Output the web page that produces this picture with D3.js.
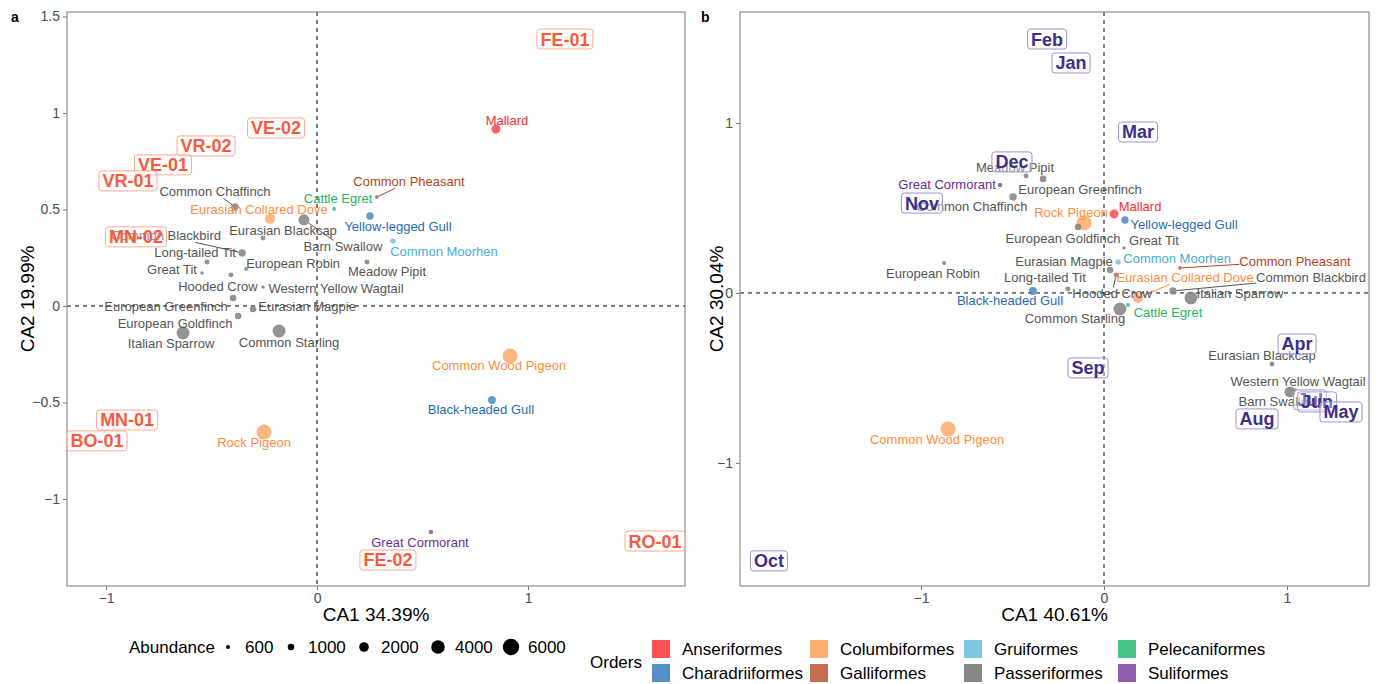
<!DOCTYPE html>
<html>
<head>
<meta charset="utf-8">
<script src="https://cdn.jsdelivr.net/npm/d3@7"></script>
<style>
  body { margin: 0; background: #ffffff; }
  svg { display: block; font-family: "Liberation Sans", Arial, Helvetica, sans-serif; }
</style>
</head>
<body>
<svg id="chart" width="1379" height="684"></svg>
<script>
// ---- Bird orders and colours ----
const orders = ["Anseriformes", "Charadriiformes", "Columbiformes", "Galliformes",
                "Gruiformes", "Passeriformes", "Pelecaniformes", "Suliformes"];
const orderFill = ["#ff474c", "#4a8ac2", "#ffaa6a", "#c0674b",
                   "#7ac3de", "#808080", "#3cc483", "#8a55ad"];
const orderInk  = ["#ff2a2a", "#1f6cb8", "#ff8c3a", "#b4441c",
                   "#46acd8", "#555555", "#1db661", "#6a2c9c"];

// ---- Species, their order and total abundance ----
const species = ["Mallard", "Common Pheasant", "Cattle Egret", "Yellow-legged Gull", "Common Moorhen",
  "Meadow Pipit", "Barn Swallow", "Eurasian Blackcap", "Common Chaffinch", "Eurasian Collared Dove",
  "Common Blackbird", "Long-tailed Tit", "Great Tit", "European Robin", "Hooded Crow",
  "Western Yellow Wagtail", "European Greenfinch", "Eurasian Magpie", "European Goldfinch",
  "Italian Sparrow", "Common Starling", "Rock Pigeon", "Common Wood Pigeon", "Black-headed Gull",
  "Great Cormorant"];
const speciesOrder = ["Anseriformes", "Galliformes", "Pelecaniformes", "Charadriiformes", "Gruiformes",
  "Passeriformes", "Passeriformes", "Passeriformes", "Passeriformes", "Columbiformes",
  "Passeriformes", "Passeriformes", "Passeriformes", "Passeriformes", "Passeriformes",
  "Passeriformes", "Passeriformes", "Passeriformes", "Passeriformes",
  "Passeriformes", "Passeriformes", "Columbiformes", "Columbiformes", "Charadriiformes",
  "Suliformes"];
const abundance = [1750, 590, 590, 1230, 780,
  710, 2600, 710, 1230, 2150,
  1230, 710, 540, 590, 710,
  540, 1030, 1030, 1000,
  3600, 3600, 5000, 4950, 1400,
  660];

// ---- Panel a: CA scores by site ----
const speciesCA1a = [0.848, 0.284, 0.081, 0.251, 0.360,
  0.237, -0.062, -0.256, -0.389, -0.223,
  -0.355, -0.521, -0.545, -0.336, -0.408,
  -0.256, -0.398, -0.303, -0.374,
  -0.635, -0.180, -0.251, 0.915, 0.829,
  0.540];
const speciesCA2a = [0.917, 0.565, 0.503, 0.466, 0.337,
  0.228, 0.446, 0.352, 0.513, 0.451,
  0.275, 0.228, 0.171, 0.192, 0.161,
  0.098, 0.041, -0.016, -0.052,
  -0.140, -0.130, -0.653, -0.259, -0.487,
  -1.171];
const sites = ["FE-01", "VE-02", "VR-02", "VE-01", "VR-01", "MN-02", "MN-01", "BO-01", "FE-02", "RO-01"];
const siteCA1 = [1.175, -0.194, -0.526, -0.730, -0.896, -0.858, -0.900, -1.043, 0.336, 1.602];
const siteCA2 = [1.383, 0.922, 0.829, 0.731, 0.648, 0.358, -0.591, -0.699, -1.316, -1.218];

// ---- Panel b: CA scores by month ----
const speciesCA1b = [0.055, 0.415, 0.131, 0.115, 0.077,
  -0.426, 1.016, 0.918, -0.497, 0.186,
  0.377, -0.197, 0.109, -0.874, 0.066,
  1.044, -0.333, 0.033, -0.142,
  0.475, 0.087, -0.109, -0.852, -0.388,
  -0.568];
const speciesCA2b = [0.465, 0.147, -0.071, 0.429, 0.182,
  0.688, -0.582, -0.418, 0.565, -0.029,
  0.012, 0.024, 0.265, 0.176, 0.106,
  -0.571, 0.671, 0.135, 0.388,
  -0.029, -0.094, 0.412, -0.800, 0.012,
  0.635];
const months = ["Feb", "Jan", "Mar", "Dec", "Nov", "Apr", "Sep", "Jul", "Jun", "May", "Aug", "Oct"];
const monthCA1 = [-0.311, -0.180, 0.186, -0.503, -0.995, 1.055, -0.087, 1.126, 1.164, 1.295, 0.836, -1.831];
const monthCA2 = [1.494, 1.353, 0.947, 0.771, 0.529, -0.300, -0.441, -0.629, -0.641, -0.700, -0.741, -1.576];

// ---- Axis ticks and legend breaks ----
const ticksAx = [-1, 0, 1];
const ticksAy = [-1, -0.5, 0, 0.5, 1, 1.5];
const ticksBx = [-1, 0, 1];
const ticksBy = [-1, 0, 1];
const abundanceBreaks = [600, 1000, 2000, 4000, 6000];

// ---- Label placement (pixel offsets of each species label from its point) ----
const labelShiftA = {
  "Mallard": [11, -9], "Common Pheasant": [32, -15], "Cattle Egret": [4, -10],
  "Yellow-legged Gull": [28, 10], "Common Moorhen": [51, 11], "Meadow Pipit": [20, 10],
  "Barn Swallow": [39, 27], "Eurasian Blackcap": [20, -8], "Common Chaffinch": [-20, -15],
  "Eurasian Collared Dove": [-11, -9], "Common Blackbird": [-76, -17], "Long-tailed Tit": [-12, -9],
  "Great Tit": [-30, -3], "European Robin": [47, -5], "Hooded Crow": [-13, 12],
  "Western Yellow Wagtail": [73, 1], "European Greenfinch": [-67, 8], "Eurasian Magpie": [54, -3],
  "European Goldfinch": [-63, 7], "Italian Sparrow": [-12, 10], "Common Starling": [10, 11],
  "Rock Pigeon": [-10, 10], "Common Wood Pigeon": [-11, 10], "Black-headed Gull": [-11, 10],
  "Great Cormorant": [-11, 10]
};
const labelShiftB = {
  "Mallard": [26, -7], "Common Pheasant": [115, -7], "Cattle Egret": [40, 7],
  "Yellow-legged Gull": [59, 4], "Common Moorhen": [59, -4], "Meadow Pipit": [-11, -9],
  "Barn Swallow": [-12, 10], "Eurasian Blackcap": [-10, -9], "Common Chaffinch": [-41, 10],
  "Eurasian Collared Dove": [47, -20], "Common Blackbird": [138, -13], "Long-tailed Tit": [-23, -11],
  "Great Tit": [30, -7], "European Robin": [-11, 10], "Hooded Crow": [-4, 19],
  "Western Yellow Wagtail": [3, -9], "European Greenfinch": [37, 11], "Eurasian Magpie": [-46, -9],
  "European Goldfinch": [-15, 11], "Italian Sparrow": [49, -4], "Common Starling": [-45, 10],
  "Rock Pigeon": [-13, -10], "Common Wood Pigeon": [-11, 11], "Black-headed Gull": [-23, 10],
  "Great Cormorant": [-53, -1]
};

// ---- Shared scales ----
const fillOf = d3.scaleOrdinal().domain(orders).range(orderFill);
const inkOf = d3.scaleOrdinal().domain(orders).range(orderInk);
// point radius grows with the square root of abundance above a small floor
const radiusLin = d3.scaleLinear().domain([0, 75]).range([1.1, 8.3]);
const radius = v => radiusLin(Math.sqrt(Math.max(0, v - 500)));

const svg = d3.select("#chart");
const fmt = v => (v < 0 ? "\u2212" : "") + Math.abs(v);

function drawPanel(cfg) {
  const x = d3.scaleLinear().domain(cfg.xDomain).range([cfg.left, cfg.right]);
  const y = d3.scaleLinear().domain(cfg.yDomain).range([cfg.bottom, cfg.top]);
  const g = svg.append("g");

  // axes
  const xAxis = d3.axisBottom(x).tickValues(cfg.xTicks).tickFormat(fmt).tickSize(4).tickPadding(3);
  const yAxis = d3.axisLeft(y).tickValues(cfg.yTicks).tickFormat(fmt).tickSize(4).tickPadding(3);
  const gx = g.append("g").attr("transform", `translate(0,${cfg.bottom})`).call(xAxis);
  const gy = g.append("g").attr("transform", `translate(${cfg.left},0)`).call(yAxis);
  [gx, gy].forEach(a => {
    a.select(".domain").remove();
    a.selectAll(".tick line").attr("stroke", "#777");
    a.selectAll(".tick text").attr("fill", "#4d4d4d").style("font-size", "14px")
      .style("font-family", "'Liberation Sans', Arial, sans-serif");
  });

  // reference lines at the origin
  g.append("line").attr("x1", x(0)).attr("x2", x(0)).attr("y1", cfg.top).attr("y2", cfg.bottom)
    .attr("stroke", "#000").attr("stroke-width", 1).attr("stroke-dasharray", "4,4");
  g.append("line").attr("x1", cfg.left).attr("x2", cfg.right).attr("y1", y(0)).attr("y2", y(0))
    .attr("stroke", "#000").attr("stroke-width", 1).attr("stroke-dasharray", "4,4");

  // panel border
  g.append("rect").attr("x", cfg.left).attr("y", cfg.top)
    .attr("width", cfg.right - cfg.left).attr("height", cfg.bottom - cfg.top)
    .attr("fill", "none").attr("stroke", "#8c8c8c").attr("stroke-width", 1.2);

  // axis titles
  g.append("text").attr("x", (cfg.left + cfg.right) / 2).attr("y", 621)
    .attr("text-anchor", "middle").style("font-size", "19px").attr("fill", "#000").text(cfg.xTitle);
  g.append("text").attr("transform", `translate(${cfg.yTitleX},${(cfg.top + cfg.bottom) / 2}) rotate(-90)`)
    .attr("text-anchor", "middle").style("font-size", "19px").attr("fill", "#000").text(cfg.yTitle);

  // panel tag
  g.append("text").attr("x", cfg.tagX).attr("y", 22).style("font-size", "14px")
    .style("font-weight", "bold").text(cfg.tag);

  // species rows
  const rows = species.map((s, i) => ({
    name: s, order: speciesOrder[i], n: abundance[i],
    px: x(cfg.ca1[i]), py: y(cfg.ca2[i]), shift: cfg.shift[s]
  }));

  const plot = g.append("g");
  plot.selectAll("circle.pt").data(rows.slice().sort((a, b) => b.n - a.n)).join("circle")
    .attr("class", "pt")
    .attr("cx", d => d.px).attr("cy", d => d.py).attr("r", d => radius(d.n))
    .attr("fill", d => fillOf(d.order)).attr("fill-opacity", 0.85);

  const segLayer = plot.append("g");
  const labels = plot.selectAll("text.sp").data(rows).join("text")
    .attr("class", "sp")
    .attr("x", d => d.px + d.shift[0]).attr("y", d => d.py + d.shift[1])
    .attr("dy", "0.35em").attr("text-anchor", "middle")
    .style("font-size", "13px").attr("fill", d => inkOf(d.order)).text(d => d.name);

  // leader segments for labels that sit away from their point
  labels.each(function (d) {
    const w = this.getComputedTextLength();
    const cx = d.px + d.shift[0], cy = d.py + d.shift[1];
    const l = cx - w / 2, r = cx + w / 2, t = cy - 6.5, b = cy + 6.5;
    const nx = Math.max(l, Math.min(r, d.px)), ny = Math.max(t, Math.min(b, d.py));
    const dist = Math.hypot(nx - d.px, ny - d.py);
    if (dist < 7) return;
    // where the line toward the label centre enters the label box
    const dx = cx - d.px, dy = cy - d.py;
    let tIn = 0;
    if (dx !== 0) tIn = Math.max(tIn, Math.min((l - d.px) / dx, (r - d.px) / dx));
    if (dy !== 0) tIn = Math.max(tIn, Math.min((t - d.py) / dy, (b - d.py) / dy));
    tIn = Math.min(1, tIn);
    const ex = d.px + dx * tIn, ey = d.py + dy * tIn;
    const rr = radius(d.n);
    const len = Math.hypot(ex - d.px, ey - d.py);
    segLayer.append("line")
      .attr("x1", d.px + (ex - d.px) / len * rr).attr("y1", d.py + (ey - d.py) / len * rr)
      .attr("x2", ex).attr("y2", ey)
      .attr("stroke", inkOf(d.order)).attr("stroke-width", 1);
  });

  // boxed labels for sites / months
  const boxLayer = g.append("g");
  cfg.boxNames.forEach((name, i) => {
    const cx = x(cfg.box1[i]), cy = y(cfg.box2[i]);
    const rect = boxLayer.append("rect");
    const t = boxLayer.append("text").attr("x", cx).attr("y", cy).attr("dy", "0.36em")
      .attr("text-anchor", "middle").style("font-size", "18px").style("font-weight", "bold")
      .attr("fill", cfg.boxInk).text(name);
    const w = t.node().getComputedTextLength();
    rect.attr("x", cx - w / 2 - 3.5).attr("y", cy - 10).attr("width", w + 7).attr("height", 20)
      .attr("rx", 3).attr("fill", "#ffffff").attr("fill-opacity", 0.35)
      .attr("stroke", cfg.boxEdge).attr("stroke-width", 1);
  });
}

drawPanel({
  tag: "a", tagX: 11,
  left: 67, right: 685, top: 12, bottom: 586,
  xDomain: [-1.185, 1.744], yDomain: [-1.451, 1.523],
  xTicks: ticksAx, yTicks: ticksAy,
  xTitle: "CA1 34.39%", yTitle: "CA2 19.99%", yTitleX: 34,
  ca1: speciesCA1a, ca2: speciesCA2a, shift: labelShiftA,
  boxNames: sites, box1: siteCA1, box2: siteCA2,
  boxInk: "#fa5a3c", boxEdge: "#ffa793"
});

drawPanel({
  tag: "b", tagX: 701,
  left: 740, right: 1369, top: 12, bottom: 586,
  xDomain: [-1.989, 1.448], yDomain: [-1.724, 1.653],
  xTicks: ticksBx, yTicks: ticksBy,
  xTitle: "CA1 40.61%", yTitle: "CA2 30.04%", yTitleX: 723,
  ca1: speciesCA1b, ca2: speciesCA2b, shift: labelShiftB,
  boxNames: months, box1: monthCA1, box2: monthCA2,
  boxInk: "#3e2e8c", boxEdge: "#9d92d4"
});

// ---- Abundance legend ----
const legA = svg.append("g").style("font-size", "17px");
legA.append("text").attr("x", 129).attr("y", 647).attr("dy", "0.35em").text("Abundance");
const abX = [228, 291, 364, 438, 511];
abundanceBreaks.forEach((v, i) => {
  legA.append("circle").attr("cx", abX[i]).attr("cy", 647).attr("r", radius(v)).attr("fill", "#000");
  legA.append("text").attr("x", abX[i] + 17).attr("y", 647).attr("dy", "0.35em").text(v);
});

// ---- Orders legend (two rows, filled column by column) ----
const legO = svg.append("g").style("font-size", "17px");
legO.append("text").attr("x", 590).attr("y", 662).attr("dy", "0.35em").text("Orders");
const keyColX = [652, 810, 964, 1118];
orders.forEach((name, k) => {
  const c = Math.floor(k / 2), r = k % 2;
  const cy = 649 + r * 24;
  legO.append("rect").attr("x", keyColX[c]).attr("y", cy - 9).attr("width", 18).attr("height", 18)
    .attr("fill", orderFill[k]).attr("fill-opacity", 0.95);
  legO.append("text").attr("x", keyColX[c] + 30).attr("y", cy).attr("dy", "0.35em").text(name);
});
</script>
</body>
</html>
